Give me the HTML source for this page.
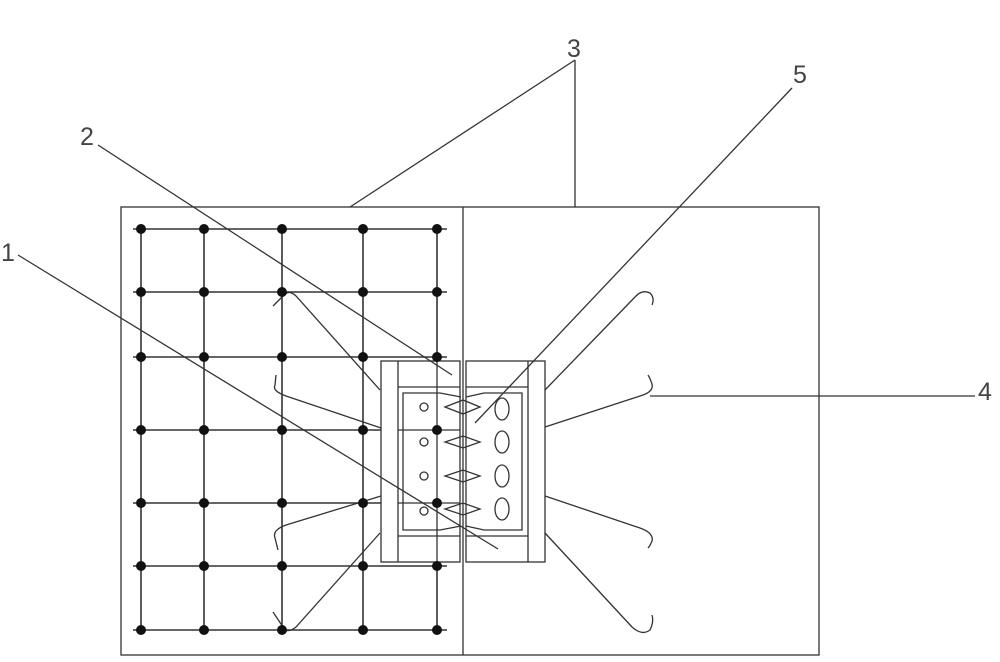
<!DOCTYPE html>
<html><head><meta charset="utf-8"><style>
html,body{margin:0;padding:0;background:#fff;}
svg{display:block;}
text{font-family:"Liberation Sans",sans-serif;font-size:25px;fill:#444;}
</style></head><body>
<svg width="1000" height="662" viewBox="0 0 1000 662" xmlns="http://www.w3.org/2000/svg">
<g stroke="#333" stroke-width="1.3" fill="none">
<rect x="121" y="207" width="698" height="448"/>
<line x1="463" y1="207" x2="463" y2="655"/>
<g stroke-width="1.6">
<line x1="133" y1="229" x2="447" y2="229"/>
<line x1="133" y1="292" x2="447" y2="292"/>
<line x1="133" y1="357" x2="447" y2="357"/>
<line x1="133" y1="430" x2="447" y2="430"/>
<line x1="133" y1="503" x2="447" y2="503"/>
<line x1="133" y1="566" x2="447" y2="566"/>
<line x1="133" y1="630" x2="447" y2="630"/>
<line x1="141" y1="229" x2="141" y2="630"/>
<line x1="204" y1="229" x2="204" y2="630"/>
<line x1="282" y1="229" x2="282" y2="630"/>
<line x1="363" y1="229" x2="363" y2="630"/>
<line x1="437" y1="229" x2="437" y2="630"/>
</g>
<rect x="381" y="361" width="79" height="201" fill="#fff"/>
<line x1="398" y1="361" x2="398" y2="562"/>
<line x1="398" y1="387" x2="460" y2="387"/>
<line x1="398" y1="536" x2="460" y2="536"/>
<rect x="466" y="361" width="79" height="201" fill="#fff"/>
<line x1="528" y1="361" x2="528" y2="562"/>
<line x1="466" y1="387" x2="528" y2="387"/>
<line x1="466" y1="536" x2="528" y2="536"/>
<path d="M461,397 L440,393 L403,393 L403,530 L440,530 L461,526"/>
<path d="M466,397 L484,393 L522,393 L522,530 L484,530 L466,526"/>
<line x1="437" y1="361" x2="437" y2="562"/>
<line x1="398" y1="430" x2="460" y2="430"/>
<line x1="398" y1="503" x2="460" y2="503"/>
<circle cx="424" cy="407" r="4"/><circle cx="424" cy="442" r="4"/><circle cx="424" cy="476" r="4"/><circle cx="424" cy="511" r="4"/>
<path d="M445,407 L463,400 L480,407 L463,414 Z"/>
<path d="M445,442 L463,436 L480,442 L463,448 Z"/>
<path d="M445,476 L463,470 L480,476 L463,482 Z"/>
<path d="M445,509 L463,503 L480,509 L463,515 Z"/>
<ellipse cx="502" cy="409" rx="7" ry="11"/><ellipse cx="502" cy="442" rx="7" ry="11"/><ellipse cx="502" cy="476" rx="7" ry="11"/><ellipse cx="502" cy="509" rx="7" ry="11"/>
<path d="M380,390 L296,296 Q290,290 285,294 L273,306"/>
<path d="M381,428 L286,396 Q272,391 275,385 L276,375"/>
<path d="M381,496 L286,525 Q272,530 275,538 L278,550"/>
<path d="M380,533 L296,627 Q290,632 285,630 L273,612"/>
<path d="M545,390 L635,297 Q642,289 650,293 Q655,298 652,305"/>
<path d="M545,427 L640,396 Q654,392 652,384 Q650,378 648,375"/>
<path d="M545,496 L640,528 Q654,533 652,541 Q650,546 648,548"/>
<path d="M545,533 L632,627 Q642,636 650,630 Q654,622 652,615"/>
<line x1="575" y1="60" x2="350" y2="207"/>
<line x1="575" y1="60" x2="575" y2="207"/>
<line x1="792" y1="88" x2="475" y2="423"/>
<line x1="98" y1="145" x2="452" y2="375"/>
<line x1="18" y1="255" x2="498" y2="549"/>
<line x1="650" y1="396" x2="975" y2="396"/>
</g>
<g fill="#111">
<circle cx="141" cy="229" r="5"/><circle cx="204" cy="229" r="5"/><circle cx="282" cy="229" r="5"/><circle cx="363" cy="229" r="5"/><circle cx="437" cy="229" r="5"/>
<circle cx="141" cy="292" r="5"/><circle cx="204" cy="292" r="5"/><circle cx="282" cy="292" r="5"/><circle cx="363" cy="292" r="5"/><circle cx="437" cy="292" r="5"/>
<circle cx="141" cy="357" r="5"/><circle cx="204" cy="357" r="5"/><circle cx="282" cy="357" r="5"/><circle cx="363" cy="357" r="5"/><circle cx="437" cy="357" r="5"/>
<circle cx="141" cy="430" r="5"/><circle cx="204" cy="430" r="5"/><circle cx="282" cy="430" r="5"/><circle cx="363" cy="430" r="5"/><circle cx="437" cy="430" r="5"/>
<circle cx="141" cy="503" r="5"/><circle cx="204" cy="503" r="5"/><circle cx="282" cy="503" r="5"/><circle cx="363" cy="503" r="5"/><circle cx="437" cy="503" r="5"/>
<circle cx="141" cy="566" r="5"/><circle cx="204" cy="566" r="5"/><circle cx="282" cy="566" r="5"/><circle cx="363" cy="566" r="5"/><circle cx="437" cy="566" r="5"/>
<circle cx="141" cy="630" r="5"/><circle cx="204" cy="630" r="5"/><circle cx="282" cy="630" r="5"/><circle cx="363" cy="630" r="5"/><circle cx="437" cy="630" r="5"/>
</g>
<text x="567" y="57">3</text>
<text x="793" y="83">5</text>
<text x="80" y="145">2</text>
<text x="1" y="261">1</text>
<text x="978" y="400">4</text>
</svg>
</body></html>
